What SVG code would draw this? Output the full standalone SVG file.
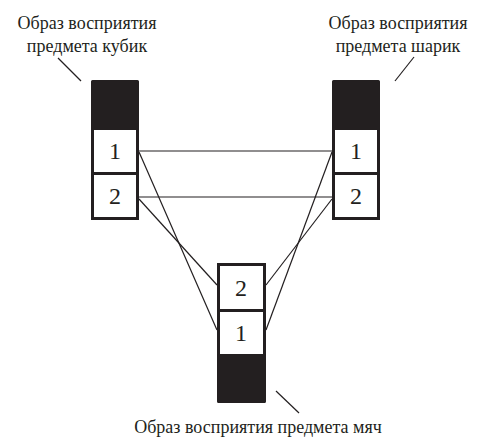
<svg xmlns="http://www.w3.org/2000/svg" width="477" height="441" viewBox="0 0 477 441">
<style>
.lbl{font-family:"Liberation Serif","Times New Roman",serif;font-size:18px;fill:#231f20;text-anchor:middle}
.num{font-family:"Liberation Serif","Times New Roman",serif;font-size:24px;fill:#231f20;text-anchor:middle}
.cell{fill:#fff;stroke:#231f20;stroke-width:3}
.blk{fill:#231f20;stroke:#231f20;stroke-width:3;stroke-linejoin:round}
.ln{stroke:#231f20;stroke-width:1.2;fill:none}
</style>
<rect width="477" height="441" fill="#fff"/>
<g id="connectors">
<line class="ln" x1="139" y1="151" x2="332" y2="151"/>
<line class="ln" x1="139" y1="197" x2="332" y2="197"/>
<line class="ln" x1="139" y1="152" x2="217" y2="330"/>
<line class="ln" x1="139" y1="199" x2="217" y2="285"/>
<line class="ln" x1="332" y1="152" x2="266" y2="330"/>
<line class="ln" x1="332" y1="199" x2="266" y2="285"/>
<line class="ln" x1="58" y1="58" x2="81" y2="81"/>
<line class="ln" x1="395" y1="81" x2="414" y2="57"/>
<line class="ln" x1="276" y1="391" x2="299" y2="413"/>
</g>
<g id="node-kubik">
<rect class="blk" x="92.5" y="81.5" width="45" height="47"/>
<rect class="cell" x="92.5" y="128.5" width="45" height="45"/>
<rect class="cell" x="92.5" y="173.5" width="45" height="45"/>
<text class="num" x="115" y="159">1</text>
<text class="num" x="115" y="204">2</text>
<text class="lbl" x="87" y="29">Образ восприятия</text>
<text class="lbl" x="87" y="52">предмета кубик</text>
</g>
<g id="node-sharik">
<rect class="blk" x="333.5" y="81.5" width="45" height="47"/>
<rect class="cell" x="333.5" y="128.5" width="45" height="45"/>
<rect class="cell" x="333.5" y="173.5" width="45" height="45"/>
<text class="num" x="356" y="159">1</text>
<text class="num" x="356" y="204">2</text>
<text class="lbl" x="398" y="29">Образ восприятия</text>
<text class="lbl" x="398" y="52">предмета шарик</text>
</g>
<g id="node-myach">
<rect class="cell" x="218.5" y="264.5" width="46" height="46"/>
<rect class="cell" x="218.5" y="310.5" width="46" height="45"/>
<rect class="blk" x="218.5" y="355.5" width="46" height="46"/>
<text class="num" x="241" y="296">2</text>
<text class="num" x="241" y="341">1</text>
<text class="lbl" x="258" y="433">Образ восприятия предмета мяч</text>
</g>
</svg>
